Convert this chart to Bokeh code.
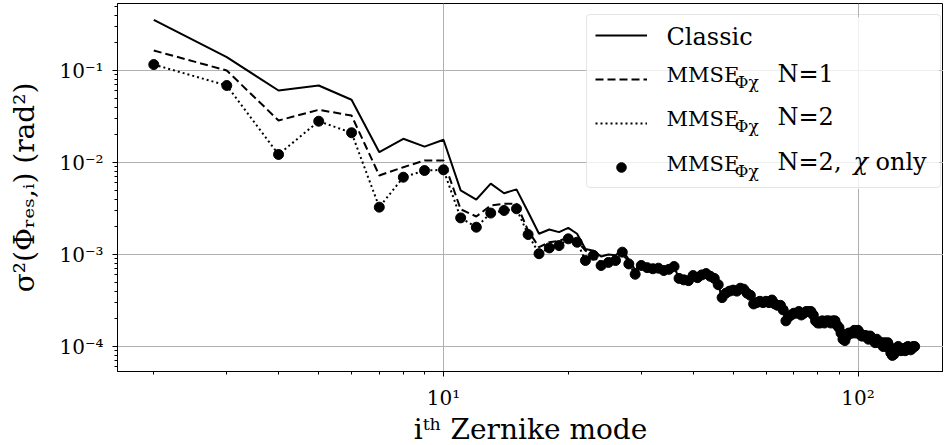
from bokeh.plotting import figure
from bokeh.models import (FixedTicker, Label, Legend, LegendItem, BoxAnnotation,
                          CustomJSTickFormatter, Range1d)
from bokeh.embed import file_html
from bokeh.resources import INLINE

# ---------------- data ----------------
modes_head = list(range(2, 23))
classic_head = [0.356, 0.1395, 0.0606, 0.0687, 0.0481, 0.01294, 0.0181, 0.0149, 0.01766,
                0.00497, 0.00396, 0.00590, 0.00463, 0.0051, 0.0029, 0.00168, 0.00187,
                0.00175, 0.00195, 0.00168, 0.00115]
mmse1_head = [0.165, 0.100, 0.0286, 0.0374, 0.0324, 0.00723, 0.00889, 0.0105, 0.0105,
              0.0031, 0.00259, 0.00341, 0.00356, 0.00356, 0.00182, 0.00120, 0.00136,
              0.00141, 0.00152, 0.00141, 0.00110]
mmse2_head = [0.116, 0.0687, 0.01222, 0.0281, 0.02105, 0.00327, 0.00692, 0.00818, 0.00832,
              0.0025, 0.00198, 0.00282, 0.00301, 0.00314, 0.00165, 0.00102, 0.00118,
              0.00125, 0.00148, 0.00136, 0.00086]
chi_head = [0.116, 0.0687, 0.01222, 0.0281, 0.02105, 0.00327, 0.00692, 0.00818, 0.00832,
            0.0025, 0.00198, 0.00282, 0.00301, 0.00314, 0.00165, 0.00102, 0.00118,
            0.00125, 0.00148, 0.00136, 0.00086]
classic_mid = [0.00110, 0.00095, 0.00100, 0.00098, 0.00112, 0.00088, 0.00068, 0.00080]  # modes 23-30
mmse1_mid = [0.00102, 0.00080, 0.00086, 0.00090, 0.00108, 0.00080]                     # modes 23-28
tail = [0.00098, 0.00076, 0.00082, 0.00086, 0.00106, 0.00079, 0.00061, 0.00076,
        0.00072, 0.00070, 0.00071, 0.00067, 0.00069, 0.00074, 0.00055, 0.00053, 0.00052, 0.00059,
        0.00056, 0.00060, 0.00062, 0.00058, 0.00055, 0.00047, 0.00034, 0.00038, 0.00040, 0.00041,
        0.00040, 0.00043, 0.00042, 0.00038, 0.00036, 0.00029, 0.00030, 0.00031, 0.00030, 0.00031,
        0.00030, 0.00032, 0.00029, 0.00028, 0.00028, 0.00025, 0.00019, 0.00021, 0.00022, 0.00023,
        0.00023, 0.00024, 0.00022, 0.00023, 0.00024, 0.00024, 0.00024, 0.00022, 0.00019, 0.00018,
        0.00018, 0.00019, 0.00018, 0.00019, 0.00019, 0.00018, 0.00019, 0.00019, 0.00017, 0.00016,
        0.00014, 0.00012, 0.000116, 0.00013, 0.00014, 0.00014, 0.00014, 0.00015, 0.00014, 0.00015,
        0.00014, 0.00013, 0.00013, 0.000132, 0.00013, 0.00012, 0.00013, 0.00012, 0.00012, 0.00011,
        0.00012, 0.000111, 0.00011, 0.00011, 0.00010, 0.00011, 0.00010, 0.00011, 0.00010, 0.000085,
        0.00008, 0.000082, 0.00009, 0.000095, 0.0001, 0.000095, 0.00009, 0.000092, 0.000095, 0.00009,
        0.000098, 0.0001, 0.000098, 0.000092, 0.000095, 0.0001, 0.0001]

x_major = [10, 100]
y_major = [1e-4, 1e-3, 1e-2, 1e-1]

modes = modes_head + list(range(23, 23 + len(tail)))
classic = classic_head + classic_mid + tail[len(classic_mid):]
mmse1 = mmse1_head + mmse1_mid + tail[len(mmse1_mid):]
mmse2 = mmse2_head + tail
chi = chi_head + tail

# ---------------- figure ----------------
# frame: page x 117..943, y 3..371 ; 10^1 at x=443, 414.5 px/decade ; 10^-1 at y=70, 92 px/decade
FL, FB = 117, 371

def dx(X):
    return 10 ** (1 + (X - 443) / 414.5)

def dy(Y):
    return 10 ** (-1 - (Y - 70) / 92)

p = figure(frame_width=826, frame_height=368, x_axis_type="log", y_axis_type="log",
           x_range=Range1d(dx(117), dx(943)), y_range=Range1d(dy(371), dy(3)),
           output_backend="svg", toolbar_location=None,
           min_border_left=117, min_border_right=0, min_border_top=3, min_border_bottom=73)
p.background_fill_color = "white"
p.border_fill_color = "white"
p.outline_line_color = "black"
p.outline_line_width = 1

xt = FixedTicker(ticks=x_major, minor_ticks=[m * 10 ** k for k in range(0, 3) for m in range(2, 10)])
yt = FixedTicker(ticks=y_major, minor_ticks=[m * 10.0 ** k for k in range(-5, 0) for m in range(2, 10)])
fmt = CustomJSTickFormatter(code="""
const sup = {"-":"\u207b","0":"\u2070","1":"\u00b9","2":"\u00b2","3":"\u00b3","4":"\u2074",
             "5":"\u2075","6":"\u2076","7":"\u2077","8":"\u2078","9":"\u2079"};
const e = Math.round(Math.log10(tick));
return "10" + String(e).split("").map(c => sup[c]).join("");
""")
for ax, t in ((p.xaxis[0], xt), (p.yaxis[0], yt)):
    ax.ticker = t
    ax.formatter = fmt
    ax.major_tick_out = 5
    ax.major_tick_in = 0
    ax.minor_tick_out = 3
    ax.minor_tick_in = 0
    ax.axis_line_color = "black"
    ax.major_tick_line_color = "black"
    ax.minor_tick_line_color = "black"
    ax.major_label_text_font = "DejaVu Serif"
    ax.major_label_text_font_size = "20px"
    ax.major_label_text_color = "black"
    ax.axis_label_text_font = "DejaVu Serif"
    ax.axis_label_text_font_size = "28px"
    ax.axis_label_text_font_style = "normal"
    ax.axis_label_text_color = "black"
p.xaxis[0].major_label_standoff = 9
p.yaxis[0].major_label_standoff = 9
p.xaxis[0].axis_label = "i\u1d57\u02b0 Zernike mode"
p.xaxis[0].axis_label_standoff = 0
p.yaxis[0].axis_label = "\u03c3\u00b2(\u03a6\u1d63\u2091\u209b,\u1d62) (rad\u00b2)"
p.yaxis[0].axis_label_standoff = 15
p.xgrid[0].ticker = xt
p.ygrid[0].ticker = yt
for g in (p.xgrid[0], p.ygrid[0]):
    g.grid_line_color = "#b0b0b0"
    g.grid_line_width = 1

# legend background (under the texts), semi-transparent white over the grid
box = BoxAnnotation(left=dx(585.7), right=dx(938.7), top=dy(16.7), bottom=dy(188.3),
                    fill_color="white", fill_alpha=0.8, line_color=None, level="underlay")
try:
    box.border_radius = 4
except Exception:
    pass
p.add_layout(box)

r1 = p.line(modes, classic, line_color="black", line_width=2)
r2 = p.line(modes, mmse1, line_color="black", line_width=2, line_dash="8 4")
r3 = p.line(modes, mmse2, line_color="black", line_width=2, line_dash="2 3")
r4 = p.scatter(modes, chi, size=10, fill_color="black", line_color="black")

# ---------------- legend (keys + border by Bokeh, texts as labels) ----------------
lg = Legend(items=[LegendItem(label=" ", renderers=[r1]), LegendItem(label=" ", renderers=[r2]),
                   LegendItem(label=" ", renderers=[r3]), LegendItem(label=" ", renderers=[r4])],
            location=(585.7 - FL, FB - 188.3), spacing=20, padding=8, margin=0,
            glyph_width=52, glyph_height=24, label_height=24, label_width=285,
            label_standoff=0, label_text_font_size="8px",
            background_fill_alpha=0,
            border_line_color="#cccccc", border_line_width=1)
try:
    lg.border_radius = 4
except Exception:
    pass
p.add_layout(lg)

def txt(s, X, Y, size, style="normal"):
    # Y is the intended baseline; the anchor is placed at the text's middle
    p.add_layout(Label(x=dx(X), y=dy(Y - 0.35 * size), text=s, level="overlay",
                       text_font="DejaVu Serif", text_font_size=f"{size}px",
                       text_font_style=style, text_color="black",
                       text_align="left", text_baseline="middle"))

txt("Classic", 666, 45, 24)
for yb, n in ((81.7, "N=1"), (125, "N=2"), (170, "N=2,")):
    txt("MMSE", 666, yb + 0.5, 21)
    txt("\u03a6\u03c7", 734, yb + 6, 17)
    txt(n, 777, yb, 24)
txt("\u03c7", 853, 170, 24, style="italic")
txt("only", 875, 170, 24)

open("out.html", "w").write(file_html(p, INLINE))
